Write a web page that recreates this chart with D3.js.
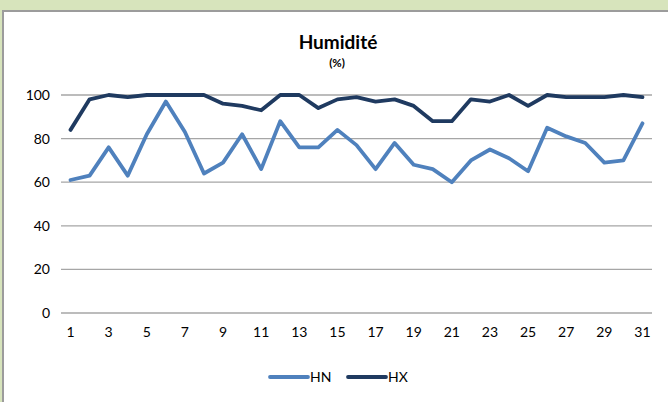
<!DOCTYPE html>
<html><head><meta charset="utf-8">
<script src="https://cdn.jsdelivr.net/npm/d3@7"></script>
<style>html,body{margin:0;padding:0;background:#D7E4BC;overflow:hidden;}svg{display:block;}</style>
</head><body>
<script>
const days = d3.range(1, 32);
const HN = [61,63,76,63,82,97,83,64,69,82,66,88,76,76,84,77,66,78,68,66,60,70,75,71,65,85,81,78,69,70,87];
const HX = [84,98,100,99,100,100,100,100,96,95,93,100,100,94,98,99,97,98,95,88,88,98,97,100,95,100,99,99,99,100,99];
const yTicks = [0,20,40,60,80,100];
const xTickLabels = days.filter(d => d % 2 === 1);
const seriesNames = ["HN","HX"];
const colors = {HN:"#4F81BD", HX:"#1F3A60"};

const W = 668, H = 402;
const svg = d3.select("body").append("svg").attr("width", W).attr("height", H);
svg.append("rect").attr("width", W).attr("height", H).attr("fill", "#D7E4BC");
svg.append("rect").attr("x", 3).attr("y", 11).attr("width", W + 20).attr("height", H + 20).attr("fill", "#fff")
  .attr("stroke", "#9C9C9C").attr("stroke-width", 2);

const font = "Lato, 'Open Sans', sans-serif";
const x = d3.scaleBand().domain(days).range([61, 652]);
const y = d3.scaleLinear().domain([0, 100]).range([313, 95]);

svg.append("text").attr("x", 338).attr("y", 49).attr("text-anchor", "middle")
  .attr("font-family", font).attr("font-weight", "bold").attr("font-size", 19).text("Humidité");
svg.append("text").attr("x", 337).attr("y", 67).attr("text-anchor", "middle")
  .attr("font-family", font).attr("font-weight", "bold").attr("font-size", 11.5).text("(%)");

// grid
svg.append("g").selectAll("line").data(yTicks).join("line")
  .attr("x1", 61).attr("x2", 652).attr("y1", d => y(d)).attr("y2", d => y(d))
  .attr("stroke", "#A6A6A6").attr("stroke-width", 1.3);

// y axis
const yAxis = svg.append("g").attr("transform", "translate(61,0)")
  .call(d3.axisLeft(y).tickValues(yTicks).tickSize(0).tickPadding(11));
yAxis.select(".domain").remove();
yAxis.selectAll("text").attr("font-family", font).attr("font-size", 14).attr("fill", "#000");

// x axis
const xAxis = svg.append("g").attr("transform", "translate(0,313)")
  .call(d3.axisBottom(x).tickValues(xTickLabels).tickSize(0).tickPadding(14));
xAxis.select(".domain").remove();
xAxis.selectAll("text").attr("font-family", font).attr("font-size", 14).attr("fill", "#000");

const line = d3.line().x((d, i) => x(days[i]) + x.bandwidth() / 2).y(d => y(d));
[["HN", HN], ["HX", HX]].forEach(([n, vals]) => {
  svg.append("path").datum(vals).attr("d", line).attr("fill", "none")
    .attr("stroke", colors[n]).attr("stroke-width", 3.8).attr("stroke-linejoin", "round").attr("stroke-linecap", "round");
});

// legend
const leg = svg.append("g");
const legX = {HN: 270, HX: 348};
seriesNames.forEach(n => {
  leg.append("line").attr("x1", legX[n]).attr("x2", legX[n] + 38).attr("y1", 377).attr("y2", 377)
    .attr("stroke", colors[n]).attr("stroke-width", 3.8).attr("stroke-linecap", "round");
  leg.append("text").attr("x", legX[n] + 40).attr("y", 382).attr("font-family", font)
    .attr("font-size", 14).text(n);
});
</script>
</body></html>
